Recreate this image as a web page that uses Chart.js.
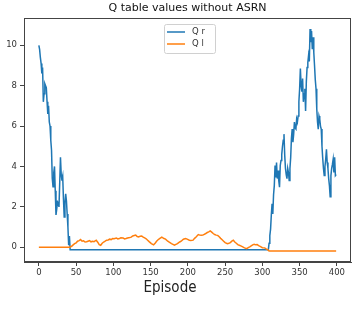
<!DOCTYPE html>
<html>
<head>
<meta charset="utf-8">
<script src="https://cdn.jsdelivr.net/npm/chart.js@4.4.1/dist/chart.umd.min.js"></script>
<style>
  html, body { margin: 0; padding: 0; background: #fff; }
  #wrap { width: 356px; height: 312px; }
</style>
</head>
<body>
<div id="wrap"><canvas id="qChart" width="356" height="312"></canvas></div>
<script>
// Q r: episodes 0..42 then 308..399, flat in between
const qrEarlyStart = 0;
const qrEarlyValues = [10.0, 9.8, 9.4, 9.1, 8.6, 8.9, 7.2, 7.6, 8.1, 8.0, 7.9, 7.2, 6.6, 7.0, 6.2, 6.0,
  5.3, 4.8, 3.4, 3.0, 3.7, 4.0, 2.8, 1.6, 1.9, 2.25, 2.2, 2.0, 3.2, 4.45, 3.6, 3.3, 3.5, 2.4, 1.5,
  2.2, 2.65, 2.3, 1.65, 1.0, 0.1, 0.55, -0.12];
const qrLateStart = 308;
const qrLateValues = [-0.12, 0.2, 0.58, 0.9, 1.6, 2.15, 1.65, 2.6, 3.05, 4.05, 3.45, 4.2, 3.4, 3.8,
  3.3, 2.97, 4.05, 4.3, 4.6, 5.0, 5.3, 5.6, 4.55, 3.9, 3.6, 3.4, 3.9, 3.7, 3.3, 3.9, 4.45, 5.4, 5.85,
  5.2, 5.6, 6.2, 5.9, 5.85, 6.35, 6.2, 6.5, 7.2, 7.85, 8.85, 8.0, 7.7, 8.35, 7.2, 7.6, 7.85, 6.75,
  8.2, 8.9, 9.15, 9.5, 9.2, 10.8, 10.15, 10.7, 9.8, 10.4, 9.65, 9.0, 8.3, 7.85, 6.85, 6.2, 5.85,
  6.5, 6.35, 6.0, 5.85, 5.0, 4.4, 3.9, 3.55, 4.0, 4.35, 4.85, 4.2, 3.9, 3.4, 3.05, 2.5, 3.55, 3.9,
  4.1, 4.35, 3.7, 4.45, 3.55, 3.6];

// Q l
const qlEpisodes = [0, 41, 44, 46, 48, 50, 52, 54, 56, 58, 60, 62, 64, 66, 68, 70, 72, 74, 77, 79,
  81, 83, 85, 87, 89, 91, 93, 95, 97, 99, 101, 104, 106, 108, 110, 113, 115, 117, 119, 122, 124,
  126, 128, 130, 132, 134, 136, 138, 140, 142, 144, 146, 148, 151, 154, 156, 158, 160, 162, 165,
  168, 170, 173, 175, 178, 180, 182, 184, 186, 189, 191, 194, 197, 199, 202, 204, 207, 209, 211,
  214, 216, 218, 220, 222, 224, 226, 228, 230, 232, 234, 236, 238, 240, 242, 244, 246, 248, 250,
  253, 255, 257, 259, 261, 263, 265, 267, 269, 271, 273, 276, 279, 281, 283, 285, 287, 289, 291,
  293, 295, 297, 300, 303, 305, 307, 309, 399];
const qlValues = [0, 0, 0.05, 0.12, 0.18, 0.22, 0.3, 0.33, 0.38, 0.3, 0.32, 0.26, 0.27, 0.3, 0.33,
  0.27, 0.3, 0.28, 0.35, 0.25, 0.13, 0.1, 0.2, 0.26, 0.3, 0.35, 0.36, 0.4, 0.38, 0.43, 0.42, 0.46,
  0.41, 0.43, 0.47, 0.46, 0.41, 0.43, 0.46, 0.48, 0.5, 0.56, 0.58, 0.6, 0.53, 0.51, 0.55, 0.56,
  0.5, 0.46, 0.42, 0.35, 0.28, 0.18, 0.12, 0.2, 0.3, 0.37, 0.43, 0.5, 0.43, 0.4, 0.3, 0.25, 0.18,
  0.14, 0.1, 0.14, 0.18, 0.26, 0.3, 0.4, 0.43, 0.4, 0.35, 0.33, 0.35, 0.44, 0.51, 0.63, 0.6, 0.59,
  0.6, 0.64, 0.68, 0.73, 0.76, 0.81, 0.75, 0.68, 0.63, 0.6, 0.59, 0.52, 0.44, 0.37, 0.3, 0.23,
  0.18, 0.2, 0.23, 0.3, 0.35, 0.26, 0.2, 0.13, 0.1, 0.07, 0.03, -0.03, -0.07, -0.02, 0.02, 0.07,
  0.12, 0.15, 0.12, 0.13, 0.08, 0.04, -0.02, -0.03, -0.08, -0.12, -0.18, -0.18];

const xTicks = [0, 50, 100, 150, 200, 250, 300, 350, 400];
const yTicks = [0, 2, 4, 6, 8, 10];
const seriesNames = ['Q r', 'Q l'];
const seriesColors = ['#1f77b4', '#ff7f0e'];

const qrPoints = qrEarlyValues.map((v, i) => ({ x: qrEarlyStart + i, y: v }))
  .concat(qrLateValues.map((v, i) => ({ x: qrLateStart + i, y: v })));
const qlPoints = qlEpisodes.map((e, i) => ({ x: e, y: qlValues[i] }));

const axisColor = '#444';
const textColor = '#333';

const framePlugin = {
  id: 'frame',
  afterDraw(chart) {
    const ctx = chart.ctx;
    const a = chart.chartArea;
    ctx.save();
    // spines
    ctx.strokeStyle = axisColor;
    ctx.lineWidth = 1;
    ctx.strokeRect(a.left + 0.5, a.top + 0.5, a.right - a.left - 1, a.bottom - a.top - 1);

    // title
    ctx.fillStyle = '#111';
    ctx.font = '11px "DejaVu Sans"';
    ctx.textAlign = 'center';
    ctx.textBaseline = 'middle';
    ctx.fillText('Q table values without ASRN', (a.left + a.right) / 2, 8);

    // x label
    ctx.font = '15px "DejaVu Sans Condensed", "Liberation Sans Narrow", "DejaVu Sans"';
    ctx.fillStyle = '#222';
    ctx.fillText('Episode', 170, 288);

    // legend
    const bx = 164, by = 24, bw = 51, bh = 29;
    ctx.fillStyle = 'rgba(255,255,255,0.85)';
    ctx.strokeStyle = '#d0d0d0';
    ctx.beginPath();
    ctx.roundRect(bx + 0.5, by + 0.5, bw, bh, 2);
    ctx.fill();
    ctx.stroke();
    ctx.font = '8.5px "DejaVu Sans"';
    ctx.textAlign = 'left';
    seriesNames.forEach((name, i) => {
      const ly = by + 8 + i * 12;
      ctx.strokeStyle = seriesColors[i];
      ctx.lineWidth = 1.5;
      ctx.beginPath();
      ctx.moveTo(bx + 3, ly);
      ctx.lineTo(bx + 21, ly);
      ctx.stroke();
      ctx.fillStyle = textColor;
      ctx.fillText(name, bx + 28, ly);
    });
    ctx.restore();
  }
};

const ctx = document.getElementById('qChart').getContext('2d');
const qChart = new Chart(ctx, {
  type: 'line',
  data: {
    datasets: [{
      label: seriesNames[0],
      data: qrPoints,
      borderColor: seriesColors[0],
      backgroundColor: seriesColors[0],
      borderWidth: 1.5,
      pointRadius: 0,
      tension: 0,
      order: 1
    }, {
      label: seriesNames[1],
      data: qlPoints,
      borderColor: seriesColors[1],
      backgroundColor: seriesColors[1],
      borderWidth: 1.5,
      pointRadius: 0,
      tension: 0,
      order: 0
    }]
  },
  options: {
    responsive: false,
    animation: false,
    devicePixelRatio: 1,
    layout: { padding: { left: 0, right: 5, top: 18, bottom: 0 } },
    plugins: {
      legend: { display: false },
      title: { display: false },
      tooltip: { enabled: false }
    },
    scales: {
      x: {
        type: 'linear',
        min: -19.95,
        max: 418.95,
        afterBuildTicks: (scale) => { scale.ticks = xTicks.map(v => ({ value: v })); },
        afterFit: (scale) => { scale.height = 50; },
        grid: { drawOnChartArea: false, drawTicks: true, tickLength: 4, color: axisColor },
        border: { display: true, color: axisColor },
        ticks: { color: textColor, font: { family: 'DejaVu Sans', size: 8.5 }, padding: 2, maxRotation: 0 }
      },
      y: {
        type: 'linear',
        min: -0.73,
        max: 11.35,
        afterBuildTicks: (scale) => { scale.ticks = yTicks.map(v => ({ value: v })); },
        afterFit: (scale) => { scale.width = 24; },
        grid: { drawOnChartArea: false, drawTicks: true, tickLength: 4, color: axisColor },
        border: { display: true, color: axisColor },
        ticks: { color: textColor, font: { family: 'DejaVu Sans', size: 8.5 }, padding: 3 }
      }
    }
  },
  plugins: [framePlugin]
});
</script>
</body>
</html>
